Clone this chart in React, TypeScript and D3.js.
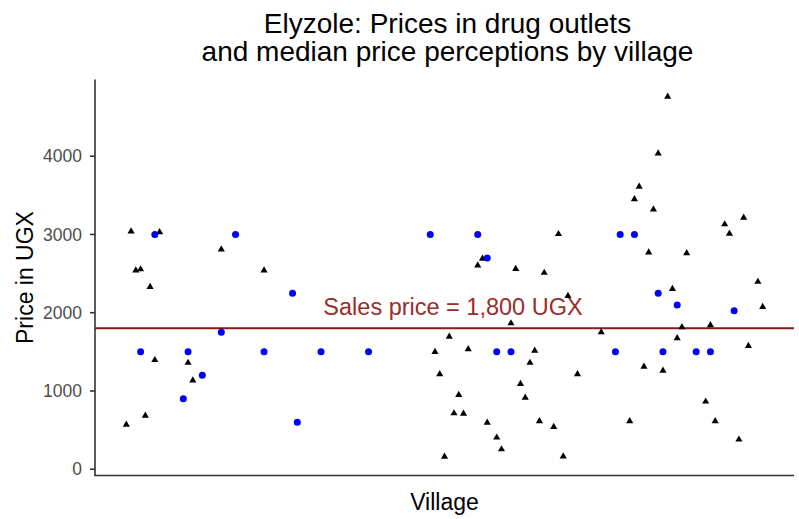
import React from "react";
import * as d3 from "d3";

// village ids on the x axis (categorical, no labels shown)
const villages = d3.range(1, 148);

// outlet prices (black triangles)
const outletVillage = [
  7, 8, 9, 10, 11, 12, 13, 14, 20, 21, 27, 36, 72, 73, 74, 75, 76, 77, 78, 79,
  81, 82, 83, 85, 86, 88, 89, 90, 91, 92, 93, 94, 95, 97, 98, 99, 100, 102, 107,
  113, 114, 115, 116, 117, 118, 119, 120, 121, 122, 123, 124, 125, 129, 130,
  131, 133, 134, 136, 137, 138, 140, 141,
];
const outletPrice = [
  570, 3040, 2540, 2555, 685, 2330, 1395, 3030, 1360, 1135, 2810, 2540, 1500,
  1215, 160, 1695, 715, 950, 710, 1535, 2605, 2690, 595, 405, 255, 1865, 2560,
  1090, 915, 1360, 1515, 615, 2510, 540, 3005, 165, 2215, 1215, 1750, 615, 3450,
  3610, 1310, 2770, 3320, 4035, 1260, 4760, 2305, 1675, 1815, 2760, 865, 1840,
  615, 3130, 3010, 380, 3215, 1575, 2395, 2075,
];

// median perceived prices (blue circles)
const perceptionVillage = [
  10, 13, 19, 20, 23, 27, 30, 36, 42, 43, 48, 58, 71, 81, 83, 85, 88, 110, 111,
  114, 119, 120, 123, 127, 130, 135,
];
const perceptionPrice = [
  1500, 3000, 900, 1500, 1200, 1750, 3000, 1500, 2250, 600, 1500, 1500, 3000,
  3000, 2700, 1500, 1500, 1500, 3000, 3000, 2250, 1500, 2100, 1500, 1500, 2025,
];

const yTicks = [0, 1000, 2000, 3000, 4000];
const salesPrice = 1800;

const title = ["Elyzole: Prices in drug outlets", "and median price perceptions by village"];

export default function App() {
  const width = 799;
  const height = 519;
  const left = 95;
  const right = 794;
  const top = 79.5;
  const bottom = 475.5;

  const x = d3.scalePoint<number>().domain(villages).range([left, right]).padding(0.6);
  const y = d3.scaleLinear().domain([-80, 4980]).range([bottom, top]);

  const tri = d3.symbol().type(d3.symbolTriangle).size(22)();
  const font = "'Liberation Sans', Arial, Helvetica, sans-serif";
  const mid = (left + right) / 2;

  return (
    <svg
      width={width}
      height={height}
      style={{ position: "absolute", left: 0, top: 0, background: "white" }}
      fontFamily={font}
    >
      {/* title */}
      <text x={mid + 3} y={32.5} textAnchor="middle" fontSize={28} fill="#000">
        {title[0]}
      </text>
      <text x={mid + 3} y={60.5} textAnchor="middle" fontSize={28} fill="#000">
        {title[1]}
      </text>

      {/* sales price reference line */}
      <line x1={left} x2={right} y1={y(salesPrice)} y2={y(salesPrice)} stroke="#8b1a1a" strokeWidth={2} />
      <text x={453} y={y(salesPrice) - 13} textAnchor="middle" fontSize={23.5} fill="#9b2c2c">
        Sales price = 1,800 UGX
      </text>

      {/* outlet prices */}
      {outletVillage.map((v, i) => (
        <path key={"t" + i} d={tri} transform={`translate(${x(v)},${y(outletPrice[i])})`} fill="#000" />
      ))}

      {/* perceived prices */}
      {perceptionVillage.map((v, i) => (
        <circle key={"c" + i} cx={x(v)} cy={y(perceptionPrice[i])} r={3.5} fill="#0000ff" />
      ))}

      {/* axes */}
      <line x1={left} x2={left} y1={top} y2={bottom} stroke="#333" strokeWidth={1.6} />
      <line x1={left - 0.8} x2={right} y1={bottom} y2={bottom} stroke="#333" strokeWidth={1.6} />
      {yTicks.map((t) => (
        <g key={t}>
          <line x1={left - 5} x2={left} y1={y(t)} y2={y(t)} stroke="#333" strokeWidth={1.6} />
          <text x={left - 13} y={y(t)} dy="0.35em" textAnchor="end" fontSize={17.5} fill="#4d4d4d">
            {t}
          </text>
        </g>
      ))}

      {/* axis titles */}
      <text x={mid} y={510} textAnchor="middle" fontSize={23} fill="#000">
        Village
      </text>
      <text transform={`translate(33,${(top + bottom) / 2}) rotate(-90)`} textAnchor="middle" fontSize={23} fill="#000">
        Price in UGX
      </text>
    </svg>
  );
}
